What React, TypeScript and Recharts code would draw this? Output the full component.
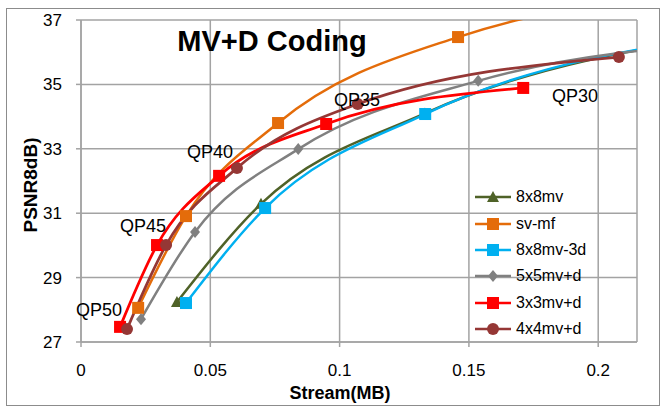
import { CartesianGrid, Line, LineChart, XAxis, YAxis } from "recharts";

const xTicks = [0, 0.05, 0.1, 0.15, 0.2];
const yTicks = [27, 29, 31, 33, 35, 37];

// stream size (MB) / PSNR per series, QP50 -> QP30
const mv8x8X = [0.0371, 0.0696, 0.133, 0.26];
const mv8x8Y = [28.24, 31.29, 34.1, 36.65];
const svmfX = [0.0221, 0.0406, 0.0762, 0.1458, 0.26];
const svmfY = [28.06, 30.91, 33.8, 36.47, 38.0];
const mv8x8x3dX = [0.0406, 0.0712, 0.1331, 0.26];
const mv8x8x3dY = [28.21, 31.16, 34.08, 36.62];
const mv5x5X = [0.0232, 0.0441, 0.084, 0.1536, 0.26];
const mv5x5Y = [27.71, 30.42, 32.99, 35.11, 36.35];
const mv3x3X = [0.0151, 0.0294, 0.0534, 0.0948, 0.171];
const mv3x3Y = [27.47, 30.01, 32.16, 33.77, 34.89];
const mv4x4X = [0.0178, 0.0329, 0.0603, 0.107, 0.208];
const mv4x4Y = [27.4, 30.01, 32.4, 34.39, 35.85];

const qpLabels = ["QP50", "QP45", "QP40", "QP35", "QP30"];

const FONT = "'Liberation Sans', Arial, sans-serif";
const GRID = "#a3a3a3";

type Pt = { x: number; y: number };
const toPoints = (xs: number[], ys: number[]): Pt[] => xs.map((x, i) => ({ x, y: ys[i] }));

type Shape = "triangle" | "square" | "diamond" | "circle";

function Marker({ shape, cx, cy, color }: { shape: Shape; cx: number; cy: number; color: string }) {
  if (shape === "square") return <rect x={cx - 6} y={cy - 6} width={12} height={12} fill={color} />;
  if (shape === "circle") return <circle cx={cx} cy={cy} r={6} fill={color} />;
  if (shape === "diamond")
    return <polygon points={`${cx},${cy - 6} ${cx + 5},${cy} ${cx},${cy + 6} ${cx - 5},${cy}`} fill={color} />;
  return <polygon points={`${cx},${cy - 6} ${cx + 6},${cy + 5} ${cx - 6},${cy + 5}`} fill={color} />;
}

const series = [
  { name: "8x8mv", data: toPoints(mv8x8X, mv8x8Y), color: "#4f6228", shape: "triangle" as Shape, width: 2.5 },
  { name: "sv-mf", data: toPoints(svmfX, svmfY), color: "#e46c0a", shape: "square" as Shape, width: 2.5 },
  { name: "8x8mv-3d", data: toPoints(mv8x8x3dX, mv8x8x3dY), color: "#00b0f0", shape: "square" as Shape, width: 2.5 },
  { name: "5x5mv+d", data: toPoints(mv5x5X, mv5x5Y), color: "#808080", shape: "diamond" as Shape, width: 2.5 },
  { name: "3x3mv+d", data: toPoints(mv3x3X, mv3x3Y), color: "#ff0000", shape: "square" as Shape, width: 2.75 },
  { name: "4x4mv+d", data: toPoints(mv4x4X, mv4x4Y), color: "#953735", shape: "circle" as Shape, width: 2.75 },
];

function LegendBox() {
  return (
    <div
      style={{
        position: "absolute",
        left: 473,
        top: 184,
        fontFamily: FONT,
        fontSize: 16,
        color: "#000",
        pointerEvents: "none",
      }}
    >
      {series.map((s) => (
        <div key={s.name} style={{ display: "flex", alignItems: "center", height: 26.4 }}>
          <svg width={40} height={16} style={{ marginRight: 3 }}>
            <line x1={2} y1={8} x2={38} y2={8} stroke={s.color} strokeWidth={2.5} />
            <Marker shape={s.shape} cx={20} cy={8} color={s.color} />
          </svg>
          <span>{s.name}</span>
        </div>
      ))}
    </div>
  );
}

// label positions are text centres in pixels, matched to the picture
const qpPos = [
  [99, 310],
  [143, 226],
  [210, 152],
  [357, 100],
  [575, 96],
];

export default function App() {
  return (
    <div style={{ position: "fixed", left: 0, top: 0, width: 667, height: 413, background: "#fff" }}>
      <div
        style={{
          position: "absolute",
          left: 6,
          top: 8,
          width: 654,
          height: 398,
          border: "1px solid #8c8c8c",
          boxSizing: "border-box",
        }}
      />
      <LineChart width={667} height={413} margin={{ top: 20, right: 30, left: 0, bottom: 41 }}>
        <CartesianGrid stroke={GRID} strokeWidth={1.5} />
        <XAxis
          type="number"
          dataKey="x"
          domain={[0, 0.215]}
          allowDataOverflow
          ticks={xTicks}
          height={30}
          tickSize={5}
          tickMargin={17}
          stroke={GRID}
          strokeWidth={1.5}
          tick={{ fill: "#000", fontSize: 17, fontFamily: FONT }}
        />
        <YAxis
          type="number"
          dataKey="y"
          domain={[27, 37]}
          allowDataOverflow
          ticks={yTicks}
          width={81}
          tickSize={5}
          tickMargin={14}
          stroke={GRID}
          strokeWidth={1.5}
          tick={{ fill: "#000", fontSize: 17, fontFamily: FONT }}
        />
        {series.map((s) => (
          <Line
            key={s.name}
            data={s.data}
            dataKey="y"
            name={s.name}
            type="monotone"
            stroke={s.color}
            strokeWidth={s.width}
            isAnimationActive={false}
            activeDot={false}
            dot={(p: any) => <Marker key={`${s.name}-${p.index}`} shape={s.shape} cx={p.cx} cy={p.cy} color={s.color} />}
          />
        ))}
      </LineChart>
      <LegendBox />
      <svg width={667} height={413} style={{ position: "absolute", left: 0, top: 0, pointerEvents: "none" }}>
        <text x={272} y={51} textAnchor="middle" fontFamily={FONT} fontWeight="bold" fontSize={29}>
          MV+D Coding
        </text>
        {qpLabels.map((t, i) => (
          <text
            key={t}
            x={qpPos[i][0]}
            y={qpPos[i][1]}
            dy="0.35em"
            textAnchor="middle"
            fontFamily={FONT}
            fontSize={18}
          >
            {t}
          </text>
        ))}
        <text x={340} y={393} dy="0.35em" textAnchor="middle" fontFamily={FONT} fontWeight="bold" fontSize={18}>
          Stream(MB)
        </text>
        <text
          x={30}
          y={185}
          dy="0.35em"
          textAnchor="middle"
          fontFamily={FONT}
          fontWeight="bold"
          fontSize={19}
          transform="rotate(-90 30 185)"
        >
          PSNR8dB)
        </text>
      </svg>
    </div>
  );
}
